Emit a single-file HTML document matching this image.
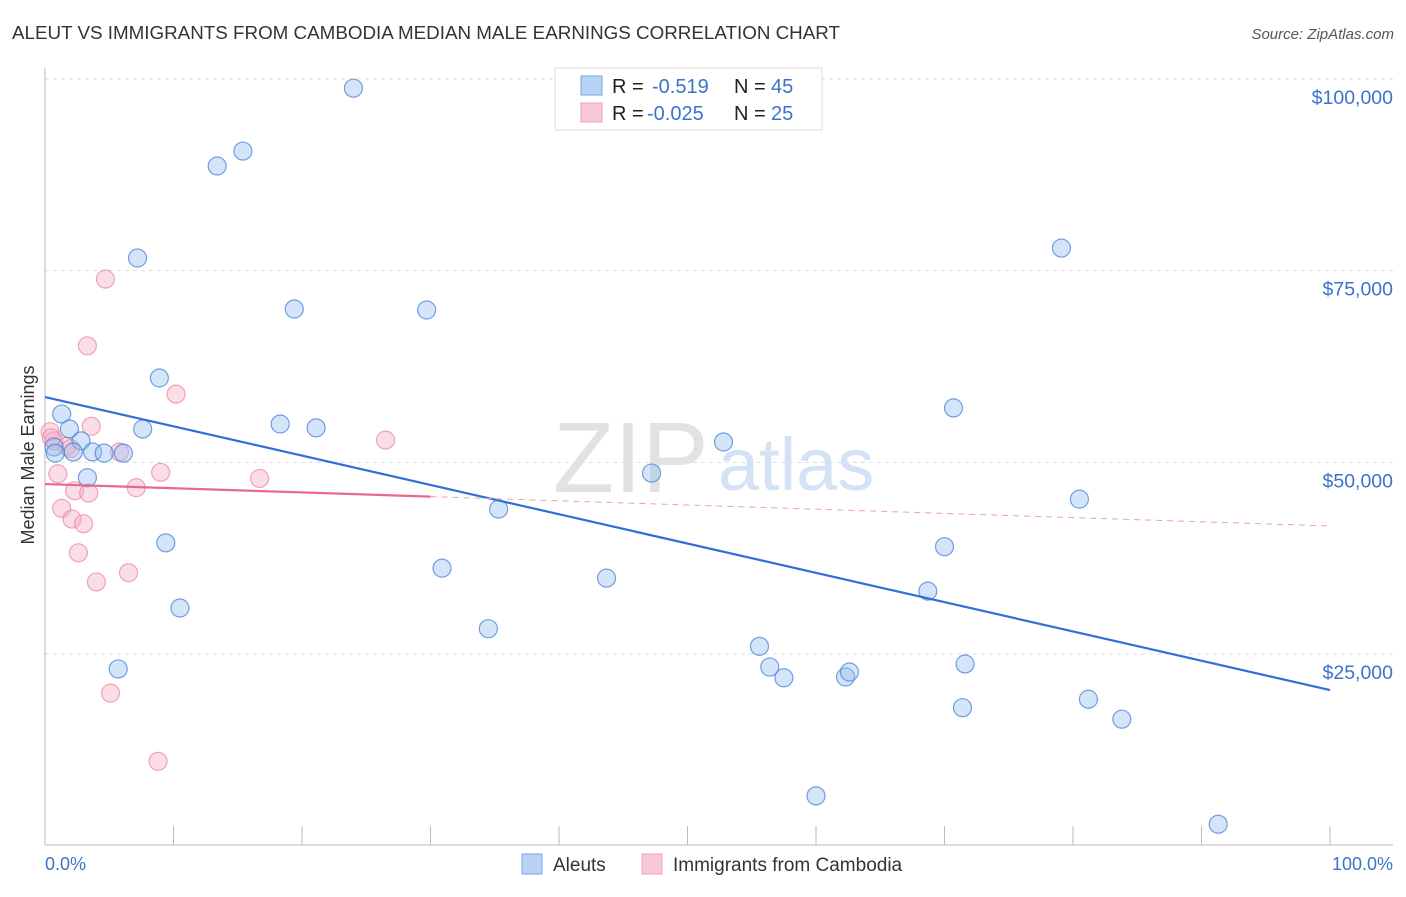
<!DOCTYPE html>
<html><head><meta charset="utf-8"><style>
body{margin:0;background:#fff;font-family:"Liberation Sans",sans-serif;}
svg text{font-family:"Liberation Sans",sans-serif;}
</style></head><body>
<svg width="1406" height="892" xmlns="http://www.w3.org/2000/svg">
<text x="12" y="39" font-size="18" fill="#333" textLength="828" lengthAdjust="spacingAndGlyphs">ALEUT VS IMMIGRANTS FROM CAMBODIA MEDIAN MALE EARNINGS CORRELATION CHART</text>
<text x="1394" y="39" font-size="15" fill="#555" font-style="italic" text-anchor="end">Source: ZipAtlas.com</text>
<g id="grid"></g>
<line x1="45" y1="68" x2="45" y2="845" stroke="#bbb"/>
<line x1="45" y1="845" x2="1393" y2="845" stroke="#bbb"/>
<text x="553" y="492" font-size="100" fill="#e2e2e2" font-family="Liberation Serif">ZIP</text>
<text x="718" y="490" font-size="74" fill="#d3e2f5">atlas</text>
<text transform="translate(34,455) rotate(-90)" font-size="18" fill="#333" text-anchor="middle">Median Male Earnings</text>
<text x="45" y="870" font-size="18" fill="#3b73c8">0.0%</text>
<text x="1393" y="870" font-size="18" fill="#3b73c8" text-anchor="end">100.0%</text>
<g id="marks"></g>
<g>
<rect x="555" y="68" width="267" height="62" fill="#fff" stroke="#ddd"/>
<rect x="581" y="76" width="21" height="19" fill="#b8d3f5" stroke="#7aa6e6"/>
<rect x="581" y="103" width="21" height="19" fill="#f9c8d6" stroke="#eda1b8"/>
<text x="612" y="93" font-size="20" fill="#222">R = <tspan x="652" fill="#3b73c8">-0.519</tspan><tspan x="734">N = </tspan><tspan x="771" fill="#3b73c8">45</tspan></text>
<text x="612" y="120" font-size="20" fill="#222">R = <tspan x="647" fill="#3b73c8">-0.025</tspan><tspan x="734">N = </tspan><tspan x="771" fill="#3b73c8">25</tspan></text>
</g>
<g>
<rect x="522" y="854" width="20" height="20" fill="#b8d3f5" stroke="#7aa6e6"/>
<text x="553" y="871" font-size="19" fill="#333">Aleuts</text>
<rect x="642" y="854" width="20" height="20" fill="#f9c8d6" stroke="#eda1b8"/>
<text x="673" y="871" font-size="19" fill="#333">Immigrants from Cambodia</text>
</g>
</svg>
<script>
const yTicks=[25000,50000,75000,100000];
const yTickLabels=["$25,000","$50,000","$75,000","$100,000"];
const blueX=[24.0,13.4,15.4,7.2,19.4,29.7,79.1,8.9,1.3,1.9,2.8,7.6,18.3,21.1,0.7,0.8,2.2,3.7,4.6,6.1,3.3,52.8,47.2,70.7,80.5,35.3,9.4,30.9,43.7,70.0,68.7,10.5,34.5,55.6,56.4,57.5,62.3,62.6,71.6,5.7,71.4,81.2,83.8,60.0,91.3];
const blueY=[98800,88650,90600,76650,70000,69870,77950,61000,56300,54350,52800,54350,55000,54500,52000,51200,51350,51350,51200,51200,48000,52650,48600,57100,45200,43900,39500,36200,34900,39000,33200,31000,28300,26000,23300,21900,22000,22650,23700,23050,18000,19100,16500,6500,2800];
const pinkX=[4.7,3.3,10.2,3.6,26.5,0.7,1.7,5.8,9.0,16.7,1.0,2.3,3.4,7.1,1.3,2.1,3.0,2.6,6.5,4.0,5.1,8.8,0.4,0.5,2.0];
const pinkY=[73900,65200,58900,54700,52900,52800,52100,51350,48700,47900,48500,46300,46000,46700,44000,42600,42000,38200,35600,34400,19900,11000,54000,53200,51800];
const blueTrend=[58520,20300];
const pinkTrend=[47170,41700];
const pinkSolidEnd=30;
const NS="http://www.w3.org/2000/svg";
const xs=p=>45+p*12.85;
const ys=v=>79+(100000-v)*191.67/25000;
const grid=document.getElementById('grid');
yTicks.forEach((t,i)=>{
 const l=document.createElementNS(NS,'line');
 l.setAttribute('x1',45);l.setAttribute('x2',1393);l.setAttribute('y1',ys(t));l.setAttribute('y2',ys(t));
 l.setAttribute('stroke','#ddd');l.setAttribute('stroke-dasharray','4,4');
 
 
 grid.appendChild(l);
 const tx=document.createElementNS(NS,'text');
 tx.setAttribute('x',1393);tx.setAttribute('y',ys(t)+25);tx.setAttribute('text-anchor','end');
 tx.setAttribute('font-size','19.5');tx.setAttribute('fill','#3b73c8');tx.textContent=yTickLabels[i];
 
 
 grid.appendChild(tx);
});
for(let i=0;i<=10;i++){
 const l=document.createElementNS(NS,'line');
 l.setAttribute('x1',xs(i*10));l.setAttribute('x2',xs(i*10));l.setAttribute('y1',826);l.setAttribute('y2',845);l.setAttribute('stroke','#bbb');
 
 
 grid.appendChild(l);
}
const marks=document.getElementById('marks');
function dot(x,y,f,s,name){
 const c=document.createElementNS(NS,'circle');
 c.setAttribute('cx',xs(x));c.setAttribute('cy',ys(y));c.setAttribute('r',9);
 c.setAttribute('fill',f);c.setAttribute('stroke',s);c.setAttribute('stroke-width','1.2');
 
 
 marks.appendChild(c);
}
function line(x1,v1,x2,v2,col,w,dash,name){
 const l=document.createElementNS(NS,'line');
 l.setAttribute('x1',xs(x1));l.setAttribute('y1',ys(v1));l.setAttribute('x2',xs(x2));l.setAttribute('y2',ys(v2));
 l.setAttribute('stroke',col);l.setAttribute('stroke-width',w);if(dash)l.setAttribute('stroke-dasharray',dash);
 
 
 marks.appendChild(l);
}
pinkX.forEach((x,i)=>dot(x,pinkY[i],'rgba(246,170,193,0.4)','rgba(232,130,160,0.7)','cambodia-point'));
blueX.forEach((x,i)=>dot(x,blueY[i],'rgba(150,190,240,0.4)','rgba(70,130,215,0.75)','aleut-point'));
line(0,blueTrend[0],100,blueTrend[1],'#2f6fd6',2.2,null,'aleut-trendline');
const pm=v=>pinkTrend[0]+(pinkTrend[1]-pinkTrend[0])*v/100;
line(0,pinkTrend[0],pinkSolidEnd,pm(pinkSolidEnd),'#e8688f',2.2,null,'cambodia-trendline');
line(pinkSolidEnd,pm(pinkSolidEnd),100,pinkTrend[1],'#e8a0b5',1,'6,5','cambodia-trendline-extension');
</script>
</body></html>
